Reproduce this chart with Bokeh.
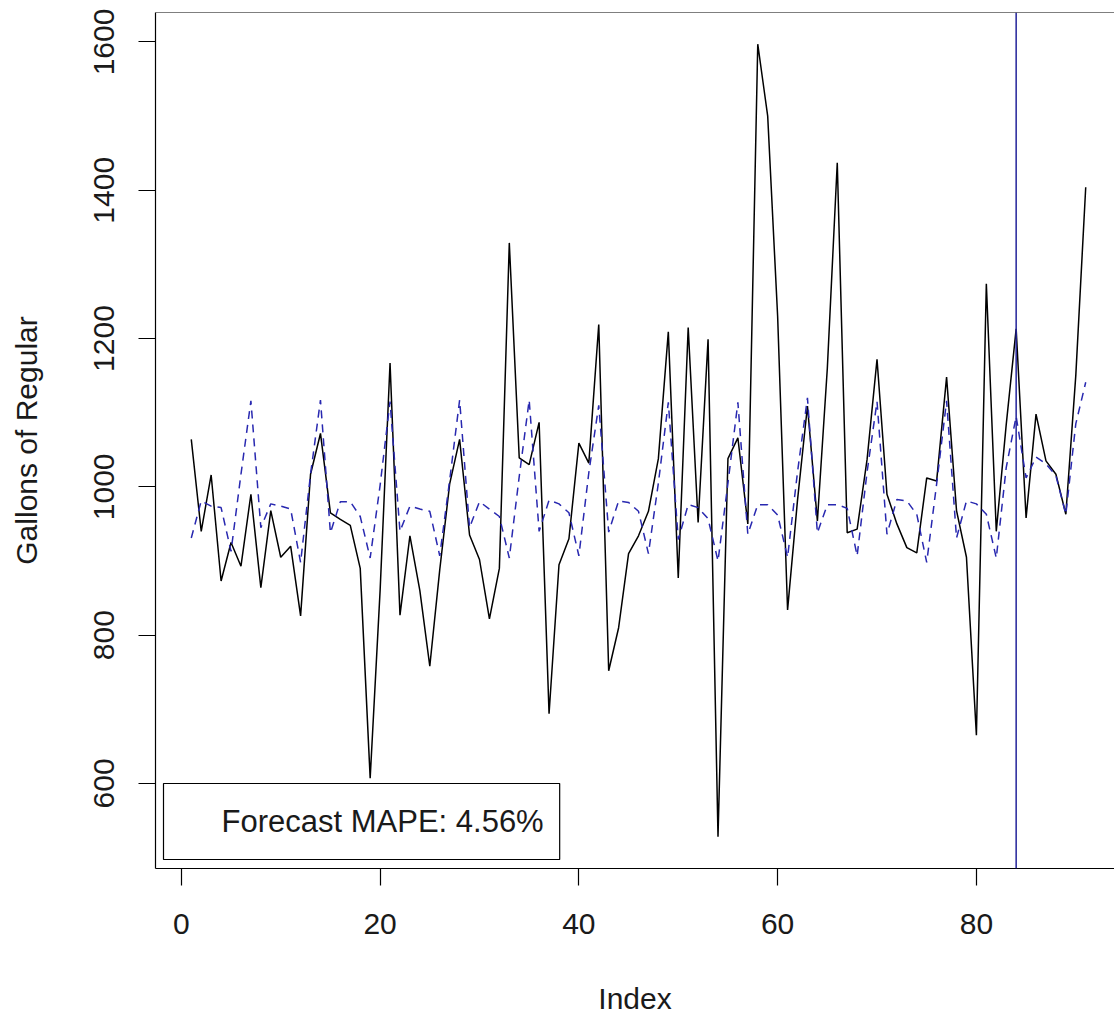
from bokeh.plotting import figure
from bokeh.models import Range1d, Span, Label, FixedTicker
from bokeh.embed import file_html
from bokeh.resources import INLINE

# ---- data ----
index = list(range(1, 92))
actual = [1064, 940, 1016, 873, 925, 893, 990, 864, 968, 905,
          920, 826, 1017, 1072, 965, 956, 948, 890, 607, 860,
          1167, 827, 934, 860, 758, 888, 1004, 1064, 935, 902,
          822, 890, 1329, 1039, 1030, 1087, 694, 895, 930, 1059,
          1032, 1219, 752, 810, 910, 934, 967, 1038, 1209, 877,
          1215, 952, 1199, 528, 1038, 1066, 950, 1597, 1500, 1230,
          834, 982, 1109, 954, 1160, 1437, 938, 943, 1037, 1172,
          990, 950, 918, 911, 1012, 1008, 1148, 968, 905, 665,
          1274, 940, 1084, 1213, 958, 1098, 1035, 1017, 963, 1150,
          1404]
fitted = [931, 981, 974, 972, 913, 1017, 1116, 945, 977, 974,
          970, 898, 1017, 1117, 938, 980, 980, 960, 904, 1002,
          1115, 940, 974, 970, 967, 907, 1009, 1117, 945, 980,
          970, 960, 904, 1014, 1117, 940, 982, 977, 965, 907,
          1019, 1110, 939, 981, 979, 967, 910, 1005, 1114, 929,
          976, 972, 957, 900, 1005, 1114, 936, 976, 976, 962,
          905, 1020, 1120, 938, 976, 976, 971, 907, 1020, 1115,
          936, 983, 981, 963, 898, 1004, 1116, 931, 981, 977,
          963, 904, 1026, 1095, 1012, 1040, 1031, 1015, 963, 1085,
          1141]
x_ticks = [0, 20, 40, 60, 80]
y_ticks = [600, 800, 1000, 1200, 1400, 1600]
split_index = 84
mape_text = "Forecast MAPE: 4.56%"
x_label = "Index"
y_label = "Gallons of Regular"

# R-style ranges (4% padding)
lo, hi = min(actual), max(actual)
ypad = 0.04 * (hi - lo)
y0, y1 = lo - ypad, hi + ypad
xpad = 0.04 * (index[-1] - index[0])
x0 = index[0] - xpad
x_full = index[-1] + xpad
# frame is cut at the right window edge (959 of 966 px visible)
x1 = x0 + (x_full - x0) * 959.0 / 966.0

FONT = "Liberation Sans"
FS = "30px"

p = figure(width=1114, height=1021, output_backend="svg", toolbar_location=None,
           x_range=Range1d(x0, x1), y_range=Range1d(y0, y1),
           min_border_left=155, min_border_right=0,
           min_border_top=12, min_border_bottom=153)
p.xgrid.visible = False
p.ygrid.visible = False
p.outline_line_color = None
p.background_fill_color = "white"
p.border_fill_color = "white"

for ax in (p.xaxis[0], p.yaxis[0]):
    ax.major_tick_out = 17
    ax.major_tick_in = 0
    ax.minor_tick_out = 0
    ax.minor_tick_in = 0
    ax.axis_line_color = "black"
    ax.axis_line_width = 1.2
    ax.major_tick_line_color = "black"
    ax.major_tick_line_width = 1.2
    ax.major_label_text_font = FONT
    ax.major_label_text_font_size = FS
    ax.major_label_text_color = "#1a1a1a"
    ax.axis_label_text_font = FONT
    ax.axis_label_text_font_size = FS
    ax.axis_label_text_font_style = "normal"
    ax.axis_label_text_color = "#1a1a1a"

p.xaxis.ticker = FixedTicker(ticks=x_ticks)
p.yaxis.ticker = FixedTicker(ticks=y_ticks)
p.xaxis.axis_label = x_label
p.yaxis.axis_label = y_label
p.xaxis.major_label_standoff = 28
p.xaxis.axis_label_standoff = 45
p.yaxis.major_label_orientation = "vertical"
p.yaxis.major_label_standoff = 24
p.yaxis.axis_label_standoff = 49

p.line(index, actual, line_color="black", line_width=1.5)
p.line(index, fitted, line_color="#2828b0", line_width=1.5, line_dash="8 6")

p.add_layout(Span(location=split_index, dimension="height",
                  line_color="#23239a", line_width=1.5))
# top border of the plot box
p.add_layout(Span(location=y1, dimension="width", line_color="black", line_width=1.2))

px_per_x = 959.0 / (x1 - x0)
px_per_y = 856.0 / (y1 - y0)
# legend-style box: left edge at box left, vertically centred on the box
lab = Label(x=x0 + (163 - 155) / px_per_x, y=y0 + (868 - 821) / px_per_y,
            text=mape_text, text_font=FONT, text_font_size="31px",
            text_color="#1a1a1a", text_baseline="middle", text_align="left",
            border_line_color="black", border_line_width=1.2,
            background_fill_color="white",
            padding=(58, 16, 20, 21))
p.add_layout(lab)

open("out.html", "w").write(file_html(p, INLINE))
